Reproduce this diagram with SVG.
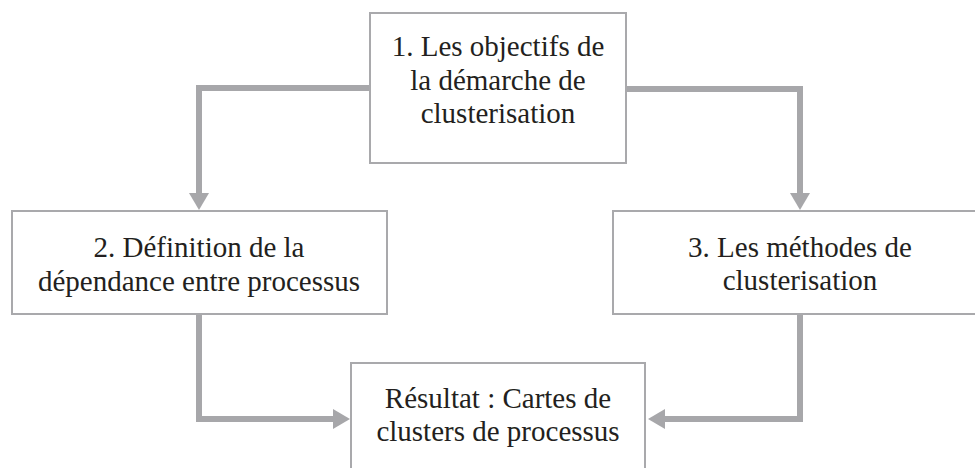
<svg xmlns="http://www.w3.org/2000/svg" width="975" height="468" viewBox="0 0 975 468">
<style>
.box{fill:#ffffff;stroke:#a9a9ac;stroke-width:2}
.t{font-family:'Liberation Serif','Times New Roman',Times,'DejaVu Serif',serif;font-size:29px;fill:#231f20;text-anchor:middle}
.c{fill:none;stroke:#a7a7aa;stroke-width:6}
.h{fill:#a7a7aa}
</style>
<rect width="975" height="468" fill="#ffffff"/>
<g id="connectors">
<polyline class="c" points="370,88 199,88 199,194"/>
<polygon class="h" points="189,193 209,193 199,210"/>
<polyline class="c" points="626,89 800,89 800,194"/>
<polygon class="h" points="790,193 810,193 800,210"/>
<polyline class="c" points="199,314 199,419 334,419"/>
<polygon class="h" points="333,409 333,429 350,419"/>
<polyline class="c" points="800,314 800,419 664,419"/>
<polygon class="h" points="665,409 665,429 648,419"/>
</g>
<g id="n1">
<rect class="box" x="370" y="13" width="256" height="150"/>
<text class="t" x="498" y="56" font-family="Liberation Serif, serif">1. Les objectifs de</text>
<text class="t" x="498" y="90" font-family="Liberation Serif, serif">la démarche de</text>
<text class="t" x="498" y="123" font-family="Liberation Serif, serif">clusterisation</text>
</g>
<g id="n2">
<rect class="box" x="12" y="211" width="375" height="103"/>
<text class="t" x="199" y="257" font-family="Liberation Serif, serif">2. Définition de la</text>
<text class="t" x="199" y="291" font-family="Liberation Serif, serif">dépendance entre processus</text>
</g>
<g id="n3">
<rect class="box" x="613" y="211" width="380" height="103"/>
<text class="t" x="800" y="257" font-family="Liberation Serif, serif">3. Les méthodes de</text>
<text class="t" x="800" y="290" font-family="Liberation Serif, serif">clusterisation</text>
</g>
<g id="n4">
<rect class="box" x="351" y="363" width="294" height="120"/>
<text class="t" x="498" y="408" font-family="Liberation Serif, serif">Résultat : Cartes de</text>
<text class="t" x="498" y="441" font-family="Liberation Serif, serif">clusters de processus</text>
</g>
</svg>
